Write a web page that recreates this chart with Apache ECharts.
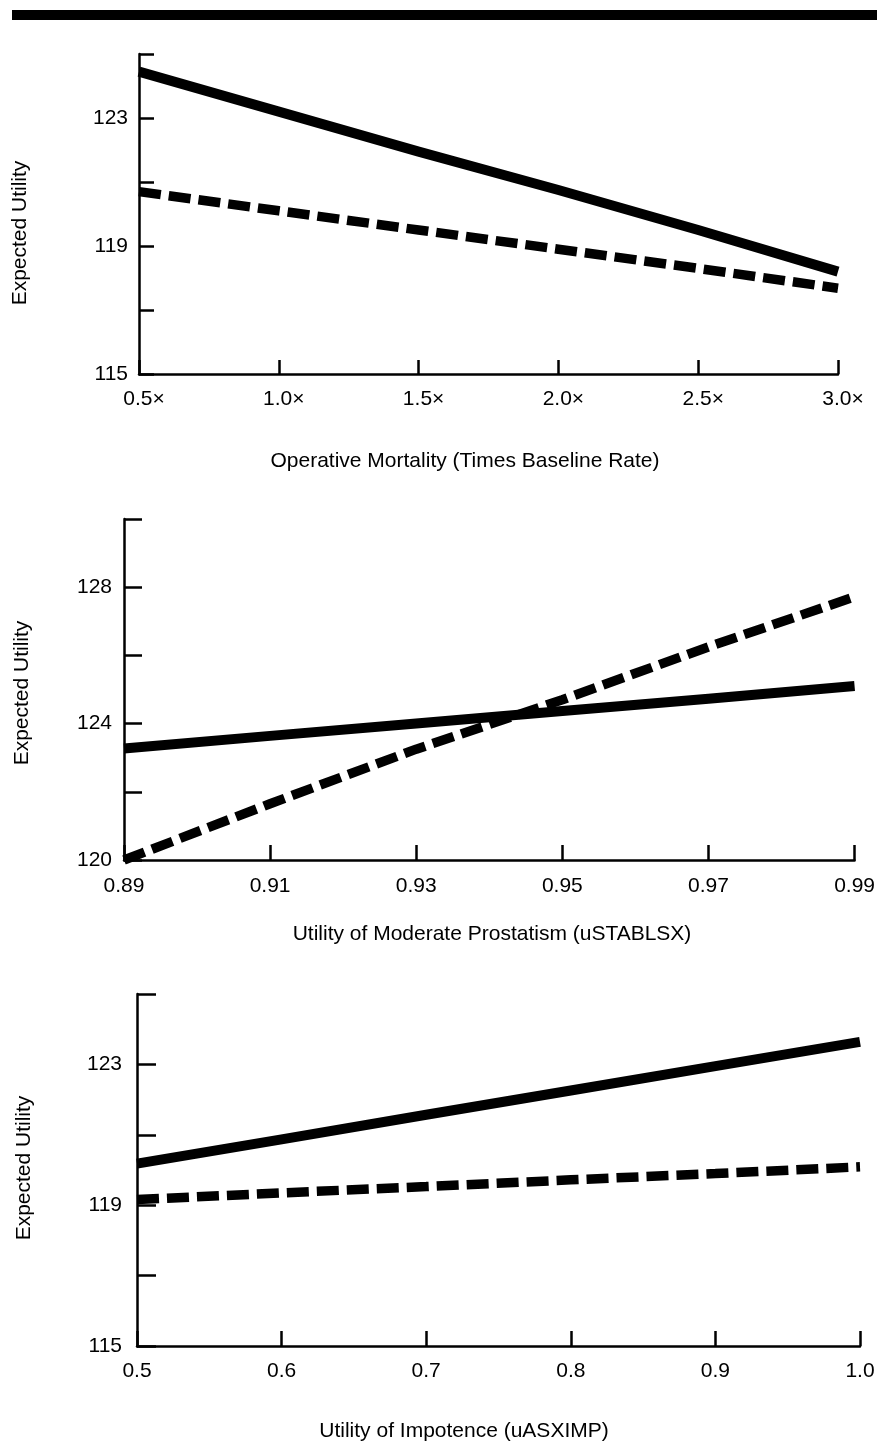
<!DOCTYPE html>
<html>
<head>
<meta charset="utf-8">
<script src="https://cdn.jsdelivr.net/npm/echarts@6/dist/echarts.min.js"></script>
<style>
html,body{margin:0;padding:0;background:#fff;}
#chart{width:878px;height:1445px;}
</style>
</head>
<body>
<div id="chart"></div>
<script>
// ---- Data ----
const topCats = ['0.5×', '1.0×', '1.5×', '2.0×', '2.5×', '3.0×'];
const topSolid = [124.45, 123.2, 121.95, 120.75, 119.5, 118.2];
const topDashed = [120.7, 120.1, 119.5, 118.9, 118.3, 117.68];
const topYLabels = [115, 119, 123];

const midCats = ['0.89', '0.91', '0.93', '0.95', '0.97', '0.99'];
const midSolid = [123.27, 123.64, 124.0, 124.37, 124.73, 125.1];
const midDashed = [120.0, 121.65, 123.25, 124.7, 126.25, 127.72];
const midYLabels = [120, 124, 128];

const botCats = ['0.5', '0.6', '0.7', '0.8', '0.9', '1.0'];
const botSolid = [120.18, 120.87, 121.57, 122.26, 122.95, 123.64];
const botDashed = [119.16, 119.35, 119.53, 119.72, 119.9, 120.09];
const botYLabels = [115, 119, 123];

const yTitle = 'Expected Utility';
const xTitles = [
  'Operative Mortality (Times Baseline Rate)',
  'Utility of Moderate Prostatism (uSTABLSX)',
  'Utility of Impotence (uASXIMP)'
];

// ---- Styles ----
const FONT = "'Liberation Sans', Arial, Helvetica, sans-serif";
const FS = 21;
const BLACK = '#000';

const chart = echarts.init(document.getElementById('chart'), null, {renderer: 'canvas'});

const grids = [
  {left: 139, top: 54, width: 699, height: 320},
  {left: 124, top: 519, width: 733, height: 341},
  {left: 137, top: 994, width: 723, height: 352}
];

function xAxisDef(idx, cats, tickLen, margin, padLeft) {
  return {
    type: 'category', gridIndex: idx, data: cats, boundaryGap: false,
    axisLine: {show: true, lineStyle: {color: BLACK, width: 2.5}},
    axisTick: {show: true, inside: true, length: tickLen, alignWithLabel: true,
      lineStyle: {color: BLACK, width: 2.5}},
    axisLabel: {show: true, color: BLACK, fontSize: FS, fontFamily: FONT, margin: margin,
      padding: [0, 0, 0, padLeft]},
    splitLine: {show: false}
  };
}
function yAxisDef(idx, min, max, labels, tickLen, margin) {
  return {
    type: 'value', gridIndex: idx, min: min, max: max, interval: 2,
    axisLine: {show: true, lineStyle: {color: BLACK, width: 2.5}},
    axisTick: {show: true, inside: true, length: tickLen, lineStyle: {color: BLACK, width: 2.5}},
    axisLabel: {show: true, color: BLACK, fontSize: FS, fontFamily: FONT, margin: margin,
      padding: [5, 0, 0, 0],
      formatter: function (v) { return labels.indexOf(Math.round(v)) >= 0 ? String(Math.round(v)) : ''; }},
    splitLine: {show: false}
  };
}
function solid(idx, data) {
  return {type: 'line', xAxisIndex: idx, yAxisIndex: idx, data: data, symbol: 'none',
    lineStyle: {color: BLACK, width: 10, cap: 'butt', join: 'round'}, silent: true, animation: false};
}
function dashed(idx, data) {
  return {type: 'line', xAxisIndex: idx, yAxisIndex: idx, data: data, symbol: 'none',
    lineStyle: {color: BLACK, width: 9.5, type: [22, 8], cap: 'butt'}, silent: true, animation: false};
}
function txt(x, y, text, rot) {
  return {type: 'text', x: x, y: y, rotation: rot || 0, silent: true,
    style: {text: text, fill: BLACK, font: FS + 'px ' + FONT, align: 'center', verticalAlign: 'middle'}};
}

const option = {
  backgroundColor: '#fff',
  animation: false,
  grid: grids,
  xAxis: [
    xAxisDef(0, topCats, 14, 15, 10),
    xAxisDef(1, midCats, 15, 16, 0),
    xAxisDef(2, botCats, 15, 15, 0)
  ],
  yAxis: [
    yAxisDef(0, 115, 125, topYLabels, 15, 11),
    yAxisDef(1, 120, 130, midYLabels, 18, 12),
    yAxisDef(2, 115, 125, botYLabels, 19, 15)
  ],
  series: [
    solid(0, topSolid), dashed(0, topDashed),
    solid(1, midSolid), dashed(1, midDashed),
    solid(2, botSolid), dashed(2, botDashed)
  ],
  graphic: [
    {type: 'rect', shape: {x: 12, y: 10, width: 865, height: 10}, style: {fill: BLACK}, silent: true},
    txt(20, 233, yTitle, Math.PI / 2),
    txt(22, 693, yTitle, Math.PI / 2),
    txt(24, 1168, yTitle, Math.PI / 2),
    txt(465, 461, xTitles[0]),
    txt(492, 934, xTitles[1]),
    txt(464, 1431, xTitles[2])
  ]
};
chart.setOption(option);
</script>
</body>
</html>
